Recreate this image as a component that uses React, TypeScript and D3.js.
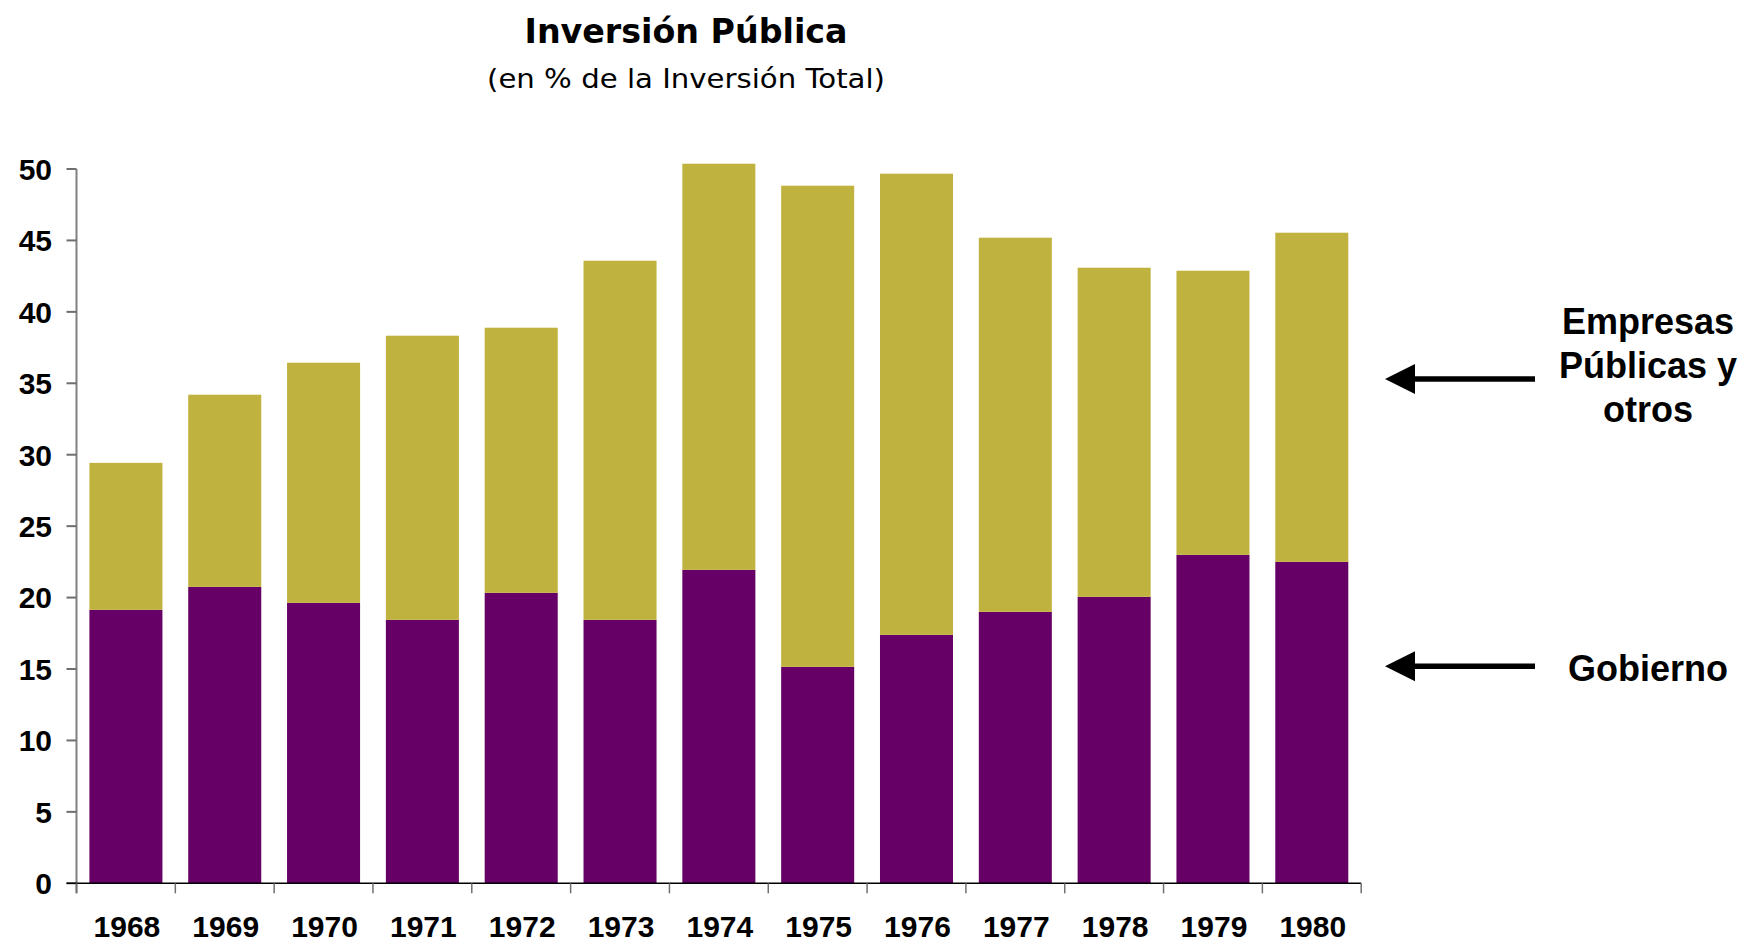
import React from "react";
import * as d3 from "d3";

const years = ["1968","1969","1970","1971","1972","1973","1974","1975","1976","1977","1978","1979","1980"];
const gobierno = [19.14, 20.75, 19.63, 18.44, 20.33, 18.44, 21.94, 15.15, 17.39, 19.0, 20.05, 22.99, 22.5];
const empresas = [10.29, 13.45, 16.81, 19.89, 18.56, 25.14, 28.43, 33.68, 32.28, 26.19, 23.04, 19.89, 23.04];
const yTicks = [0, 5, 10, 15, 20, 25, 30, 35, 40, 45, 50];
const seriesNames = ["Gobierno", "Empresas Públicas y otros"];
const colors = ["#660066", "#C0B23E"];
const annotations = [
  { lines: ["Empresas", "Públicas y", "otros"], value: 35.3, offset: -45 },
  { lines: ["Gobierno"], value: 15.2, offset: 15 },
];

const W = 1745, H = 944;
const left = 76.5, right = 1361.2, top = 169, bottom = 883.3;

export default function App() {
  const x = d3.scaleBand<string>().domain(years).range([left, right]).paddingInner(0.261).paddingOuter(0.1305);
  const y = d3.scaleLinear().domain([0, 50]).range([bottom, top]);
  const step = x.step();
  const data = years.map((yr, i) => ({ yr, g: gobierno[i], e: empresas[i] }));
  const stack = d3.stack<any>().keys(["g", "e"])(data);
  const font = "'Liberation Sans', Arial, sans-serif";

  return (
    <svg width={W} height={H} style={{ position: "absolute", left: 0, top: 0, background: "#fff" }}>
      <text x={686} y={43} textAnchor="middle" fontFamily="'DejaVu Sans', Verdana, sans-serif" fontWeight="bold" fontSize={33} textLength={323} lengthAdjust="spacingAndGlyphs">Inversión Pública</text>
      <text x={686} y={88} textAnchor="middle" fontFamily="'DejaVu Sans', Verdana, sans-serif" fontSize={27} textLength={398} lengthAdjust="spacingAndGlyphs">(en % de la Inversión Total)</text>

      {stack.map((layer, li) => (
        <g key={li} fill={colors[li]}>
          {layer.map((d: any, i: number) => (
            <rect key={i} x={x(years[i])} y={y(d[1])} width={x.bandwidth()} height={y(d[0]) - y(d[1])}>
              <title>{seriesNames[li]}</title>
            </rect>
          ))}
        </g>
      ))}

      {/* Y axis */}
      <line x1={left} x2={left} y1={top} y2={bottom + 10} stroke="#808080" strokeWidth={2} />
      {yTicks.map((t) => (
        <g key={t}>
          <line x1={left - 10} x2={left} y1={y(t)} y2={y(t)} stroke="#6e6e6e" strokeWidth={2} />
          <text x={52} y={y(t)} dy="0.36em" textAnchor="end" fontFamily={font} fontWeight="bold" fontSize={30}>{t}</text>
        </g>
      ))}

      {/* X axis */}
      <line x1={left - 10} x2={right} y1={bottom} y2={bottom} stroke="#000" strokeWidth={1.5} />
      {d3.range(years.length + 1).map((i) => (
        <line key={i} x1={left + i * step} x2={left + i * step} y1={bottom} y2={bottom + 10} stroke="#707070" strokeWidth={1.5} />
      ))}
      {years.map((yr) => (
        <text key={yr} x={(x(yr) as number) + x.bandwidth() / 2 + 1} y={937} textAnchor="middle" fontFamily={font} fontWeight="bold" fontSize={30}>{yr}</text>
      ))}

      {/* Annotations */}
      {annotations.map((a, ai) => {
        const ay = y(a.value);
        const firstBase = ay + a.offset;
        return (
          <g key={ai}>
            <line x1={1410} x2={1535} y1={ay} y2={ay} stroke="#000" strokeWidth={5.5} />
            <polygon points={`1385,${ay} 1415,${ay - 15} 1415,${ay + 15}`} fill="#000" />
            {a.lines.map((l, li) => (
              <text key={li} x={1648} y={firstBase + li * 44} textAnchor="middle" fontFamily={font} fontWeight="bold" fontSize={36}>{l}</text>
            ))}
          </g>
        );
      })}
    </svg>
  );
}
